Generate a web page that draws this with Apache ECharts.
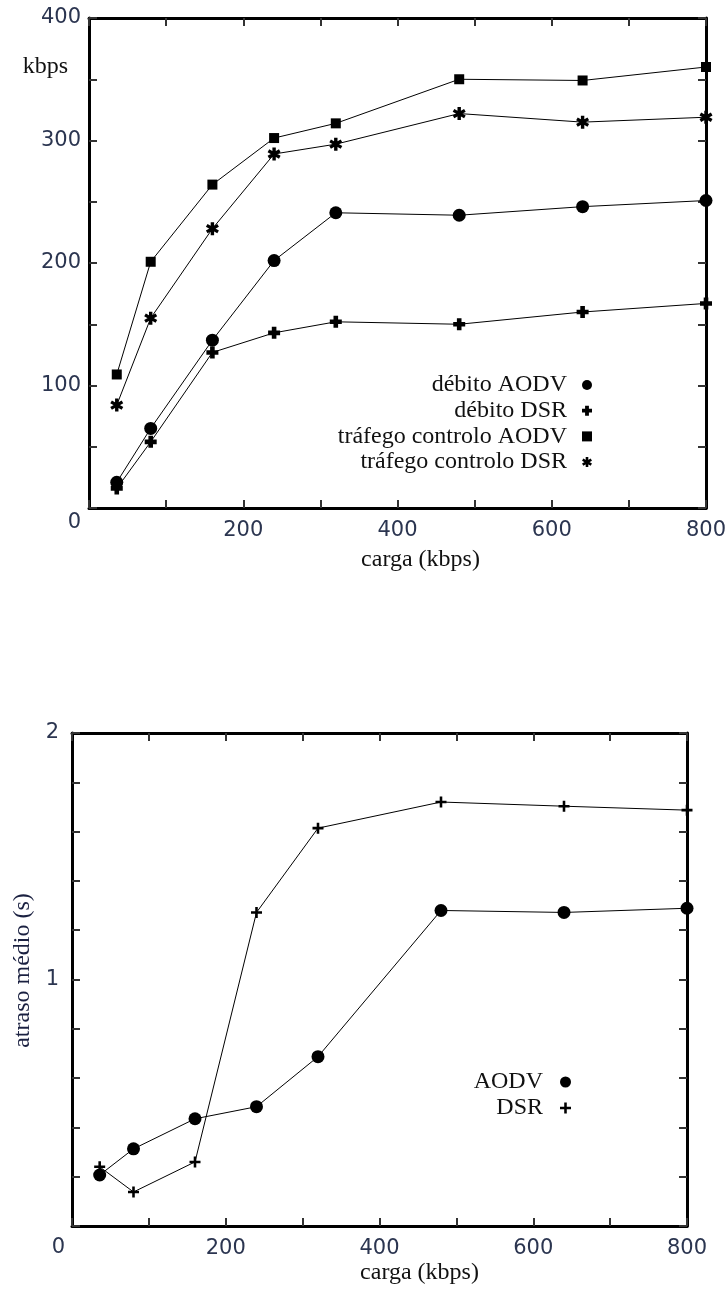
<!DOCTYPE html>
<html>
<head>
<meta charset="utf-8">
<script src="https://cdn.jsdelivr.net/npm/echarts@6/dist/echarts.min.js"></script>
<style>
html,body{margin:0;padding:0;background:#fff;}
#c{width:728px;height:1290px;}
</style>
</head>
<body>
<div id="c"></div>
<script>
// ---- data ----
const load = [36, 80, 160, 240, 320, 480, 640, 800];
const throughputAODV = [21, 65, 137, 202, 241, 239, 246, 251];
const throughputDSR = [16, 54, 127, 143, 152, 150, 160, 167];
const controlAODV = [109, 201, 264, 302, 314, 350, 349, 360];
const controlDSR = [84, 155, 228, 289, 297, 322, 315, 319];
const delayAODV = [0.207, 0.313, 0.435, 0.484, 0.687, 1.28, 1.272, 1.289];
const delayDSR = [0.24, 0.138, 0.26, 1.272, 1.614, 1.72, 1.703, 1.687];

const topNames = ['débito AODV', 'débito DSR', 'tráfego controlo AODV', 'tráfego controlo DSR'];
const bottomNames = ['AODV', 'DSR'];
const xTitle = 'carga (kbps)';
const topYTitle = 'kbps';
const bottomYTitle = 'atraso médio (s)';

// ---- symbols ----
const plusBold = 'path://M-2.3,-6L2.3,-6L2.3,-2.3L6,-2.3L6,2.3L2.3,2.3L2.3,6L-2.3,6L-2.3,2.3L-6,2.3L-6,-2.3L-2.3,-2.3Z';
const plusThin = 'path://M-1.4,-6L1.4,-6L1.4,-1.4L6,-1.4L6,1.4L1.4,1.4L1.4,6L-1.4,6L-1.4,1.4L-6,1.4L-6,-1.4L-1.4,-1.4Z';
const star = 'path://M-2.6,-10L2.6,-10L2.6,10L-2.6,10Z' +
  'M-9.91,-2.835L-7.41,-7.165L9.91,2.835L7.41,7.165Z' +
  'M-7.41,7.165L-9.91,2.835L7.41,-7.165L9.91,-2.835Z';

const zip = (xs, ys) => xs.map((x, i) => [x, ys[i]]);

const numFont = { fontFamily: 'DejaVu Sans', fontSize: 21, color: '#2b3550' };
const serif = 'Liberation Serif';
const tickStyle = { color: '#333', width: 2 };
const frameLine = { show: true, onZero: false, lineStyle: { color: '#000', width: 3 } };

function xAxisPair(grid, nameGap, namePad) {
  return [{
    type: 'value', gridIndex: grid, min: 0, max: 800, interval: 200, position: 'bottom',
    name: xTitle, nameLocation: 'middle', nameGap: nameGap,
    nameTextStyle: { fontFamily: serif, fontSize: 24, color: '#111', padding: [0, 0, 0, namePad] },
    axisLine: frameLine,
    axisTick: { show: true, inside: true, length: 8, lineStyle: tickStyle },
    minorTick: { show: true, splitNumber: 2, length: 8, lineStyle: tickStyle },
    axisLabel: Object.assign({ margin: 12, formatter: v => v === 0 ? '' : String(v) }, numFont),
    splitLine: { show: false }
  }, {
    type: 'value', gridIndex: grid, min: 0, max: 800, interval: 200, position: 'top',
    axisLine: frameLine,
    axisTick: { show: true, inside: true, length: 8, lineStyle: tickStyle },
    minorTick: { show: true, splitNumber: 2, length: 8, lineStyle: tickStyle },
    axisLabel: { show: false }, splitLine: { show: false }
  }];
}

const option = {
  animation: false,
  backgroundColor: '#fff',
  grid: [
    { left: 89, top: 18, width: 617, height: 490, containLabel: false, outerBoundsMode: 'none' },
    { left: 72, top: 733, width: 615, height: 493, containLabel: false, outerBoundsMode: 'none' }
  ],
  xAxis: [].concat(xAxisPair(0, 40, 46), xAxisPair(1, 35, 80)),
  yAxis: [
    {
      type: 'value', gridIndex: 0, min: 0, max: 400, interval: 100, position: 'left',
      name: topYTitle, nameLocation: 'end', nameGap: -49, nameMoveOverlap: false,
      nameTextStyle: { fontFamily: serif, fontSize: 24, color: '#111', align: 'right', verticalAlign: 'middle', padding: [0, 21, 0, 0] },
      axisLine: frameLine,
      axisTick: { show: true, inside: true, length: 8, lineStyle: tickStyle },
      minorTick: { show: true, splitNumber: 2, length: 8, lineStyle: tickStyle },
      axisLabel: Object.assign({
        margin: 8,
        formatter: v => v === 0 ? '{z|0}' : String(v),
        rich: { z: Object.assign({ padding: [30, 0, 0, 0] }, numFont) }
      }, numFont),
      splitLine: { show: false }
    },
    {
      type: 'value', gridIndex: 0, min: 0, max: 400, interval: 100, position: 'right',
      axisLine: frameLine,
      axisTick: { show: true, inside: true, length: 8, lineStyle: tickStyle },
      minorTick: { show: true, splitNumber: 2, length: 8, lineStyle: tickStyle },
      axisLabel: { show: false }, splitLine: { show: false }
    },
    {
      type: 'value', gridIndex: 1, min: 0, max: 2, interval: 1, position: 'left',
      name: bottomYTitle, nameLocation: 'middle', nameGap: 37,
      nameTextStyle: { fontFamily: serif, fontSize: 24, color: '#1a2040', padding: [0, 0, 0, 18] },
      axisLine: frameLine,
      axisTick: { show: true, inside: true, length: 8, lineStyle: tickStyle },
      minorTick: { show: true, splitNumber: 5, length: 8, lineStyle: tickStyle },
      axisLabel: Object.assign({
        margin: 7,
        formatter: v => v === 0 ? '{z|0}' : '{n|' + v + '}',
        rich: {
          z: Object.assign({ padding: [44, 0, 0, 0] }, numFont),
          n: Object.assign({ padding: [0, 6, 0, 0] }, numFont)
        }
      }, numFont),
      splitLine: { show: false }
    },
    {
      type: 'value', gridIndex: 1, min: 0, max: 2, interval: 1, position: 'right',
      axisLine: frameLine,
      axisTick: { show: true, inside: true, length: 8, lineStyle: tickStyle },
      minorTick: { show: true, splitNumber: 5, length: 8, lineStyle: tickStyle },
      axisLabel: { show: false }, splitLine: { show: false }
    }
  ],
  legend: [
    {
      orient: 'vertical', align: 'right', right: 136, top: 373, padding: 0,
      itemWidth: 10, itemHeight: 10, itemGap: 1.7, selectedMode: false,
      textStyle: { fontFamily: serif, fontSize: 24, lineHeight: 24, color: '#111', padding: [0, 10, 0, 0] },
      data: [
        { name: topNames[0], icon: 'circle' },
        { name: topNames[1], icon: plusBold },
        { name: topNames[2], icon: 'rect' },
        { name: topNames[3], icon: star }
      ]
    },
    {
      orient: 'vertical', align: 'right', right: 157, top: 1070, padding: 0,
      itemWidth: 11, itemHeight: 11, itemGap: 2, selectedMode: false,
      textStyle: { fontFamily: serif, fontSize: 24, lineHeight: 24, color: '#111', padding: [0, 12, 0, 0] },
      data: [
        { name: bottomNames[0], icon: 'circle' },
        { name: bottomNames[1], icon: plusThin }
      ]
    }
  ],
  series: [
    { name: topNames[0], data: zip(load, throughputAODV), symbol: 'circle', symbolSize: 13, xAxisIndex: 0, yAxisIndex: 0 },
    { name: topNames[1], data: zip(load, throughputDSR), symbol: plusBold, symbolSize: 12, xAxisIndex: 0, yAxisIndex: 0 },
    { name: topNames[2], data: zip(load, controlAODV), symbol: 'rect', symbolSize: 10, xAxisIndex: 0, yAxisIndex: 0 },
    { name: topNames[3], data: zip(load, controlDSR), symbol: star, symbolSize: 13, xAxisIndex: 0, yAxisIndex: 0 },
    { name: bottomNames[0], data: zip(load, delayAODV), symbol: 'circle', symbolSize: 13, xAxisIndex: 2, yAxisIndex: 2 },
    { name: bottomNames[1], data: zip(load, delayDSR), symbol: plusThin, symbolSize: 11, xAxisIndex: 2, yAxisIndex: 2 }
  ].map(s => Object.assign({
    type: 'line', showSymbol: true, clip: false,
    lineStyle: { color: '#000', width: 1 },
    itemStyle: { color: '#000' },
    emphasis: { disabled: true }
  }, s))
};

const chart = echarts.init(document.getElementById('c'), null, { renderer: 'canvas' });
chart.setOption(option);
</script>
</body>
</html>
